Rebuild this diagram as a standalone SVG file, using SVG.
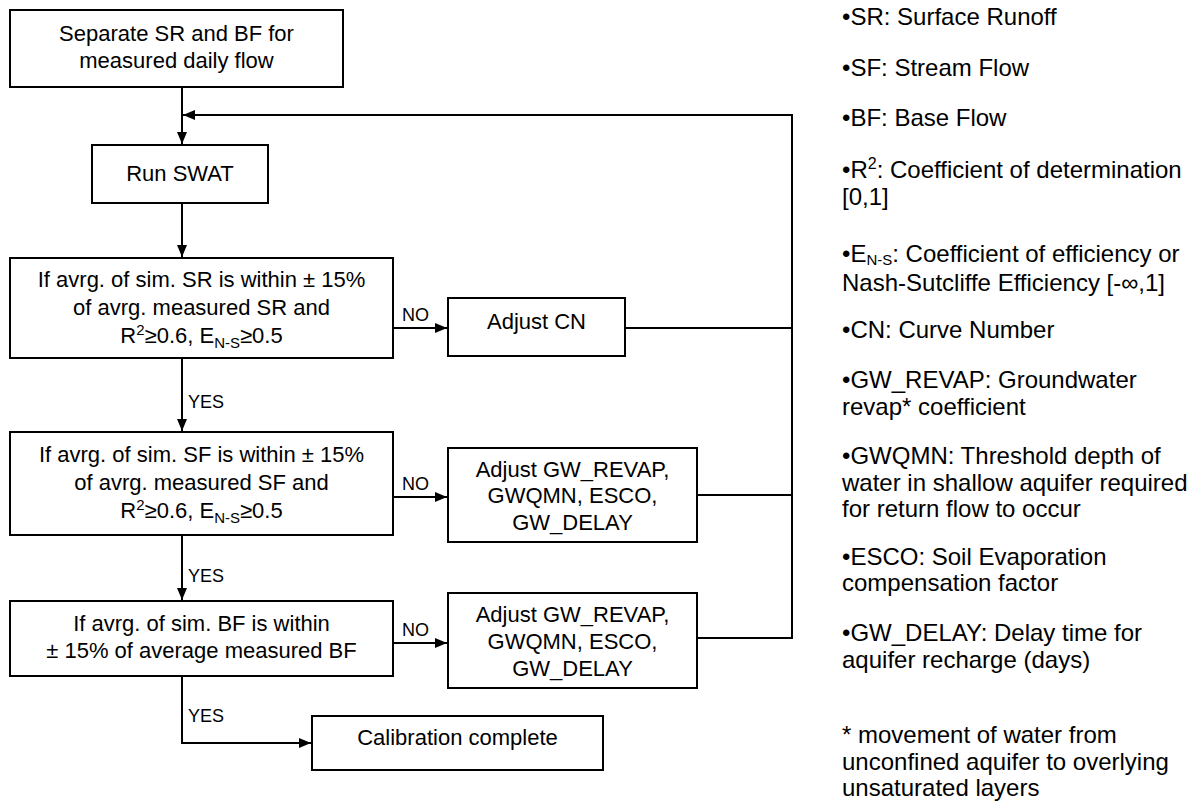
<svg xmlns="http://www.w3.org/2000/svg" width="1198" height="806" viewBox="0 0 1198 806">
<style>
.box{fill:#fff;stroke:#000;stroke-width:2}
.t{font-family:"Liberation Sans",Arial,sans-serif;font-size:22px;fill:#000;text-anchor:middle}
.lbl{font-family:"Liberation Sans",Arial,sans-serif;font-size:18px;fill:#000}
.lg{font-family:"Liberation Sans",Arial,sans-serif;font-size:24px;fill:#000}
.ln{fill:none;stroke:#000;stroke-width:2}
</style>
<defs>
<marker id="ah" markerUnits="userSpaceOnUse" markerWidth="14" markerHeight="10" refX="12" refY="5" orient="auto">
<path d="M0,0 L12,5 L0,10 Z" fill="#000"/>
</marker>
</defs>
<rect width="1198" height="806" fill="#fff"/>
<g id="connectors">
<line class="ln" x1="182" y1="87" x2="182" y2="144" marker-end="url(#ah)"/>
<polyline class="ln" points="697,638 792,638 792,115 183,115" marker-end="url(#ah)"/>
<line class="ln" x1="625" y1="328" x2="792" y2="328"/>
<line class="ln" x1="697" y1="495" x2="792" y2="495"/>
<line class="ln" x1="182" y1="203" x2="182" y2="257" marker-end="url(#ah)"/>
<line class="ln" x1="393" y1="328" x2="447" y2="328" marker-end="url(#ah)"/>
<line class="ln" x1="182" y1="358" x2="182" y2="431" marker-end="url(#ah)"/>
<line class="ln" x1="393" y1="497" x2="447" y2="497" marker-end="url(#ah)"/>
<line class="ln" x1="182" y1="535" x2="182" y2="600" marker-end="url(#ah)"/>
<line class="ln" x1="393" y1="643" x2="447" y2="643" marker-end="url(#ah)"/>
<polyline class="ln" points="182,676 182,743 311,743" marker-end="url(#ah)"/>
<text class="lbl" x="402" y="321">NO</text>
<text class="lbl" x="402" y="490">NO</text>
<text class="lbl" x="402" y="636">NO</text>
<text class="lbl" x="188" y="408">YES</text>
<text class="lbl" x="188" y="582">YES</text>
<text class="lbl" x="188" y="722">YES</text>
</g>
<g id="separate">
<rect class="box" x="10" y="10" width="333" height="77"/>
<text class="t" x="176.5" y="41">Separate SR and BF for</text>
<text class="t" x="176.5" y="68">measured daily flow</text>
</g>
<g id="runswat">
<rect class="box" x="92" y="145" width="176" height="58"/>
<text class="t" x="180" y="181">Run SWAT</text>
</g>
<g id="checkSR">
<rect class="box" x="10" y="258" width="383" height="100"/>
<text class="t" x="201.5" y="287">If avrg. of sim. SR is within ± 15%</text>
<text class="t" x="201.5" y="315">of avrg. measured SR and</text>
<text class="t" x="201.5" y="343">R<tspan font-size="15" dy="-8">2</tspan><tspan dy="8">≥0.6, E</tspan><tspan font-size="15" dy="5">N-S</tspan><tspan dy="-5">≥0.5</tspan></text>
</g>
<g id="adjustCN">
<rect class="box" x="448" y="298" width="177" height="58"/>
<text class="t" x="536.5" y="329">Adjust CN</text>
</g>
<g id="checkSF">
<rect class="box" x="10" y="432" width="383" height="103"/>
<text class="t" x="201.5" y="462">If avrg. of sim. SF is within ± 15%</text>
<text class="t" x="201.5" y="490">of avrg. measured SF and</text>
<text class="t" x="201.5" y="518">R<tspan font-size="15" dy="-8">2</tspan><tspan dy="8">≥0.6, E</tspan><tspan font-size="15" dy="5">N-S</tspan><tspan dy="-5">≥0.5</tspan></text>
</g>
<g id="adjustGW1">
<rect class="box" x="448" y="448" width="249" height="94"/>
<text class="t" x="572.5" y="477">Adjust GW_REVAP,</text>
<text class="t" x="572.5" y="503">GWQMN, ESCO,</text>
<text class="t" x="572.5" y="530">GW_DELAY</text>
</g>
<g id="checkBF">
<rect class="box" x="10" y="601" width="383" height="75"/>
<text class="t" x="201.5" y="631">If avrg. of sim. BF is within</text>
<text class="t" x="201.5" y="658">± 15% of average measured BF</text>
</g>
<g id="adjustGW2">
<rect class="box" x="448" y="593" width="249" height="95"/>
<text class="t" x="572.5" y="622">Adjust GW_REVAP,</text>
<text class="t" x="572.5" y="649">GWQMN, ESCO,</text>
<text class="t" x="572.5" y="676">GW_DELAY</text>
</g>
<g id="complete">
<rect class="box" x="312" y="716" width="291" height="54"/>
<text class="t" x="457.5" y="745">Calibration complete</text>
</g>
<g id="legend">
<text class="lg" x="842" y="25">•SR: Surface Runoff</text>
<text class="lg" x="842" y="76">•SF: Stream Flow</text>
<text class="lg" x="842" y="126">•BF: Base Flow</text>
<text class="lg" x="842" y="178">•R<tspan font-size="16" dy="-9">2</tspan><tspan dy="9">: Coefficient of determination</tspan></text>
<text class="lg" x="842" y="205">[0,1]</text>
<text class="lg" x="842" y="262">•E<tspan font-size="15" dy="3">N-S</tspan><tspan dy="-3">: Coefficient of efficiency or</tspan></text>
<text class="lg" x="842" y="291">Nash-Sutcliffe Efficiency [-∞,1]</text>
<text class="lg" x="842" y="338">•CN: Curve Number</text>
<text class="lg" x="842" y="388">•GW_REVAP: Groundwater</text>
<text class="lg" x="842" y="415">revap* coefficient</text>
<text class="lg" x="842" y="464">•GWQMN: Threshold depth of</text>
<text class="lg" x="842" y="491">water in shallow aquifer required</text>
<text class="lg" x="842" y="517">for return flow to occur</text>
<text class="lg" x="842" y="565">•ESCO: Soil Evaporation</text>
<text class="lg" x="842" y="591">compensation factor</text>
<text class="lg" x="842" y="641">•GW_DELAY: Delay time for</text>
<text class="lg" x="842" y="668">aquifer recharge (days)</text>
<text class="lg" x="842" y="743">* movement of water from</text>
<text class="lg" x="842" y="770">unconfined aquifer to overlying</text>
<text class="lg" x="842" y="796">unsaturated layers</text>
</g>
</svg>
